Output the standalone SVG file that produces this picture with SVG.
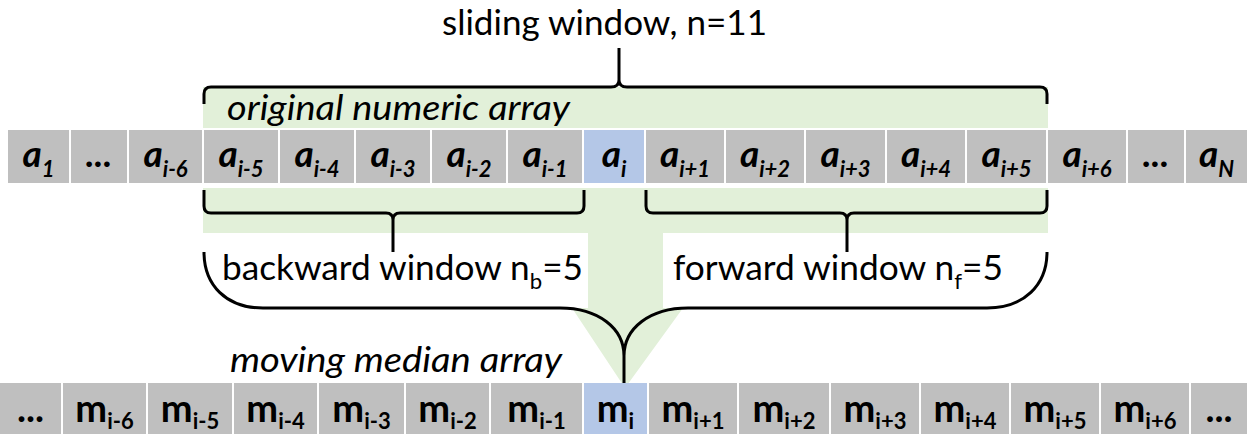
<svg xmlns="http://www.w3.org/2000/svg" width="1247" height="434" viewBox="0 0 1247 434">
<style>
.cell{fill:#BFBFBF}
.hl{fill:#B4C7E7}
.green{fill:#E2F0D9}
.brace{fill:none;stroke:#000;stroke-width:3;stroke-linecap:butt;stroke-linejoin:round}
.al{font-family:Lato,"Open Sans",sans-serif;font-weight:bold;font-style:italic;font-size:37px;fill:#000;text-anchor:middle}
.ml{font-family:Lato,"Open Sans",sans-serif;font-weight:bold;font-size:38px;fill:#000;text-anchor:middle}
.sub{font-size:22px}
.lbl{font-family:Lato,"Open Sans",sans-serif;font-size:35px;fill:#000}
.it{font-style:italic}
</style>
<g id="background">
<rect class="green" x="203" y="87" width="845" height="41"/>
<path class="green" d="M203 188 H1048 V233 H663 V308 H683 L625 388 L572 308 H588 V233 H203 Z"/>
</g>
<g id="labels">
<text id="title" class="lbl" x="442" y="35" textLength="325" lengthAdjust="spacingAndGlyphs">sliding window, n=11</text>
<text id="orig" class="lbl it" x="227" y="120" textLength="343" lengthAdjust="spacingAndGlyphs">original numeric array</text>
<text id="backward" class="lbl" x="222" y="280" textLength="361" lengthAdjust="spacingAndGlyphs">backward window n<tspan font-size="22" dy="9">b</tspan><tspan dy="-9">=5</tspan></text>
<text id="forward" class="lbl" x="673" y="280" textLength="330" lengthAdjust="spacingAndGlyphs">forward window n<tspan font-size="22" dy="9">f</tspan><tspan dy="-9">=5</tspan></text>
<text id="moving" class="lbl it" x="230" y="372" textLength="332" lengthAdjust="spacingAndGlyphs">moving median array</text>
</g>
<g id="top-row">
<g id="a1"><rect class="cell" x="8" y="130" width="61" height="53"/><text class="al" x="38.5" y="167">a<tspan class="sub" dy="10">1</tspan></text></g>
<g id="a-dots1"><rect class="cell" x="71" y="130" width="56" height="53"/><text class="al" x="99" y="167">...</text></g>
<g id="a-i-6"><rect class="cell" x="129" y="130" width="73" height="53"/><text class="al" x="165.5" y="167">a<tspan class="sub" dy="10">i-6</tspan></text></g>
<g id="a-i-5"><rect class="cell" x="204" y="130" width="74" height="53"/><text class="al" x="241" y="167">a<tspan class="sub" dy="10">i-5</tspan></text></g>
<g id="a-i-4"><rect class="cell" x="280" y="130" width="74" height="53"/><text class="al" x="317" y="167">a<tspan class="sub" dy="10">i-4</tspan></text></g>
<g id="a-i-3"><rect class="cell" x="356" y="130" width="74" height="53"/><text class="al" x="393" y="167">a<tspan class="sub" dy="10">i-3</tspan></text></g>
<g id="a-i-2"><rect class="cell" x="432" y="130" width="74" height="53"/><text class="al" x="469" y="167">a<tspan class="sub" dy="10">i-2</tspan></text></g>
<g id="a-i-1"><rect class="cell" x="508" y="130" width="74" height="53"/><text class="al" x="545" y="167">a<tspan class="sub" dy="10">i-1</tspan></text></g>
<g id="a-i"><rect class="hl" x="584" y="130" width="60" height="53"/><text class="al" x="614" y="167">a<tspan class="sub" dy="10">i</tspan></text></g>
<g id="a-i+1"><rect class="cell" x="646" y="130" width="78" height="53"/><text class="al" x="685" y="167">a<tspan class="sub" dy="10">i+1</tspan></text></g>
<g id="a-i+2"><rect class="cell" x="726" y="130" width="78" height="53"/><text class="al" x="765" y="167">a<tspan class="sub" dy="10">i+2</tspan></text></g>
<g id="a-i+3"><rect class="cell" x="806" y="130" width="79" height="53"/><text class="al" x="845.5" y="167">a<tspan class="sub" dy="10">i+3</tspan></text></g>
<g id="a-i+4"><rect class="cell" x="887" y="130" width="78" height="53"/><text class="al" x="926" y="167">a<tspan class="sub" dy="10">i+4</tspan></text></g>
<g id="a-i+5"><rect class="cell" x="967" y="130" width="79" height="53"/><text class="al" x="1006.5" y="167">a<tspan class="sub" dy="10">i+5</tspan></text></g>
<g id="a-i+6"><rect class="cell" x="1048" y="130" width="78" height="53"/><text class="al" x="1087" y="167">a<tspan class="sub" dy="10">i+6</tspan></text></g>
<g id="a-dots2"><rect class="cell" x="1128" y="130" width="56" height="53"/><text class="al" x="1156" y="167">...</text></g>
<g id="aN"><rect class="cell" x="1186" y="130" width="61" height="53"/><text class="al" x="1216.5" y="167">a<tspan class="sub" dy="10">N</tspan></text></g>
</g>
<g id="bottom-row">
<g id="m-dots1"><rect class="cell" x="0" y="383" width="61" height="51"/><text class="ml" x="30.5" y="422">...</text></g>
<g id="m-i-6"><rect class="cell" x="63" y="383" width="83" height="51"/><text class="ml" x="104.5" y="422">m<tspan class="sub" dy="7">i-6</tspan></text></g>
<g id="m-i-5"><rect class="cell" x="148" y="383" width="84" height="51"/><text class="ml" x="190" y="422">m<tspan class="sub" dy="7">i-5</tspan></text></g>
<g id="m-i-4"><rect class="cell" x="234" y="383" width="83" height="51"/><text class="ml" x="275.5" y="422">m<tspan class="sub" dy="7">i-4</tspan></text></g>
<g id="m-i-3"><rect class="cell" x="319" y="383" width="85" height="51"/><text class="ml" x="361.5" y="422">m<tspan class="sub" dy="7">i-3</tspan></text></g>
<g id="m-i-2"><rect class="cell" x="406" y="383" width="83" height="51"/><text class="ml" x="447.5" y="422">m<tspan class="sub" dy="7">i-2</tspan></text></g>
<g id="m-i-1"><rect class="cell" x="491" y="383" width="91" height="51"/><text class="ml" x="536.5" y="422">m<tspan class="sub" dy="7">i-1</tspan></text></g>
<g id="m-i"><rect class="hl" x="584" y="383" width="63" height="51"/><text class="ml" x="615.5" y="422">m<tspan class="sub" dy="7">i</tspan></text></g>
<g id="m-i+1"><rect class="cell" x="649" y="383" width="88" height="51"/><text class="ml" x="693" y="422">m<tspan class="sub" dy="7">i+1</tspan></text></g>
<g id="m-i+2"><rect class="cell" x="739" y="383" width="90" height="51"/><text class="ml" x="784" y="422">m<tspan class="sub" dy="7">i+2</tspan></text></g>
<g id="m-i+3"><rect class="cell" x="831" y="383" width="88" height="51"/><text class="ml" x="875" y="422">m<tspan class="sub" dy="7">i+3</tspan></text></g>
<g id="m-i+4"><rect class="cell" x="921" y="383" width="88" height="51"/><text class="ml" x="965" y="422">m<tspan class="sub" dy="7">i+4</tspan></text></g>
<g id="m-i+5"><rect class="cell" x="1011" y="383" width="88" height="51"/><text class="ml" x="1055" y="422">m<tspan class="sub" dy="7">i+5</tspan></text></g>
<g id="m-i+6"><rect class="cell" x="1101" y="383" width="88" height="51"/><text class="ml" x="1145" y="422">m<tspan class="sub" dy="7">i+6</tspan></text></g>
<g id="m-dots2"><rect class="cell" x="1191" y="383" width="56" height="51"/><text class="ml" x="1219" y="422">...</text></g>
</g>
<g id="connectors">
<path id="brace-top" class="brace" d="M204 104 V94 Q204 87 211 87 H611 Q619 87 619 80 V48 M619 80 Q619 87 627 87 H1040 Q1047 87 1047 94 V104"/>
<path id="brace-back" class="brace" d="M204 190 V206 Q204 213 211 213 H386 Q393 213 393 220 V252 M393 220 Q393 213 400 213 H577 Q584 213 584 206 V190"/>
<path id="brace-fwd" class="brace" d="M646 190 V206 Q646 213 653 213 H840 Q847 213 847 220 V252 M847 220 Q847 213 854 213 H1040 Q1047 213 1047 206 V190"/>
<path id="brace-big" class="brace" d="M204 252 C204 285 226 308 263 308 H560 C598 308 624 328 624 356 V383 M624 356 C624 328 650 308 688 308 H987 C1024 308 1047 285 1047 252"/>
</g>
</svg>
